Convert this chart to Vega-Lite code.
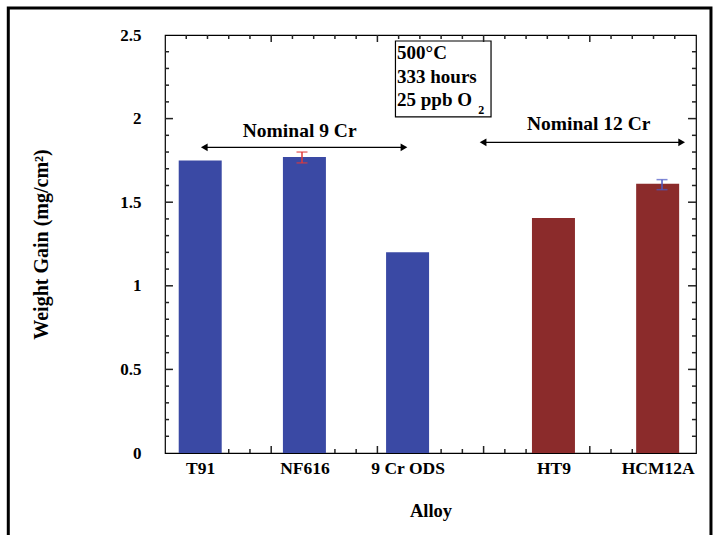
{
  "$schema": "https://vega.github.io/schema/vega-lite/v6.json",
  "width": 531,
  "height": 418,
  "autosize": "none",
  "padding": {"left": 165, "top": 35, "right": 19, "bottom": 82},
  "background": "white",
  "config": {
    "view": {"stroke": "black", "strokeWidth": 1.2},
    "font": "Liberation Serif",
    "axis": {
      "labelFont": "Liberation Serif",
      "titleFont": "Liberation Serif",
      "labelFontWeight": "bold",
      "titleFontWeight": "bold",
      "labelColor": "black",
      "titleColor": "black",
      "grid": false,
      "domain": false,
      "labelFlush": false,
      "labelOverlap": false,
      "labelBound": false
    }
  },
  "datasets": {
    "bars": [
      {"alloy": "T91", "pos": 0.29, "gain": 1.75, "group": "Nominal 9 Cr"},
      {"alloy": "NF616", "pos": 1.29, "gain": 1.77, "group": "Nominal 9 Cr"},
      {"alloy": "9 Cr ODS", "pos": 2.28, "gain": 1.2, "group": "Nominal 9 Cr"},
      {"alloy": "HT9", "pos": 3.68, "gain": 1.405, "group": "Nominal 12 Cr"},
      {"alloy": "HCM12A", "pos": 4.68, "gain": 1.61, "group": "Nominal 12 Cr"}
    ],
    "errors": [
      {"alloy": "NF616", "pos": 1.29, "lo": 1.735, "hi": 1.8},
      {"alloy": "HCM12A", "pos": 4.68, "lo": 1.575, "hi": 1.635}
    ],
    "arrows": [
      {"label": "Nominal 9 Cr", "from": 0.37, "to": 2.25, "y": 1.828, "tx": 1.268, "ty": 1.925},
      {"label": "Nominal 12 Cr", "from": 2.995, "to": 4.865, "y": 1.858, "tx": 3.99, "ty": 1.965}
    ],
    "box": [{"x1": 2.17, "x2": 3.07, "y1": 2.01, "y2": 2.464}],
    "boxText": [
      {"line": "500°C", "x": 2.185, "y": 2.39},
      {"line": "333 hours", "x": 2.185, "y": 2.25},
      {"line": "25 ppb O", "x": 2.185, "y": 2.112}
    ],
    "sub": [{"t": "2", "x": 2.95, "y": 2.05}],
    "yMajor": [{"v": 0.5}, {"v": 1}, {"v": 1.5}, {"v": 2}],
    "yMinor": [{"v": 0.1}, {"v": 0.2}, {"v": 0.3}, {"v": 0.4}, {"v": 0.6}, {"v": 0.7}, {"v": 0.8}, {"v": 0.9}, {"v": 1.1}, {"v": 1.2}, {"v": 1.3}, {"v": 1.4}, {"v": 1.6}, {"v": 1.7}, {"v": 1.8}, {"v": 1.9}, {"v": 2.1}, {"v": 2.2}, {"v": 2.3}, {"v": 2.4}],
    "xMajor": [{"v": 1}, {"v": 2}, {"v": 3}, {"v": 4}],
    "xMinorBottom": [{"v": 0.6}, {"v": 0.8}, {"v": 1.6}, {"v": 1.8}, {"v": 2.6}, {"v": 2.8}, {"v": 3.2}, {"v": 3.4}, {"v": 4.2}, {"v": 4.4}],
    "xMinorTop": [{"v": 0.2}, {"v": 0.4}, {"v": 0.6}, {"v": 0.8}, {"v": 1.2}, {"v": 1.4}, {"v": 1.6}, {"v": 1.8}, {"v": 2.2}, {"v": 2.4}, {"v": 2.6}, {"v": 2.8}, {"v": 3.2}, {"v": 3.4}, {"v": 3.6}, {"v": 3.8}, {"v": 4.2}, {"v": 4.4}, {"v": 4.6}, {"v": 4.8}]
  },
  "resolve": {
    "scale": {"color": "independent", "x": "independent", "y": "independent"},
    "axis": {"x": "independent", "y": "independent"}
  },
  "layer": [
    {
      "data": {"name": "bars"},
      "mark": {"type": "bar", "size": 43},
      "encoding": {
        "x": {
          "field": "pos", "type": "quantitative",
          "scale": {"domain": [0, 5], "nice": false, "zero": false},
          "axis": {
            "orient": "bottom",
            "values": [0.29, 1.29, 2.28, 3.68, 4.68],
            "ticks": false, "tickSize": 0, "labelPadding": 6,
            "labelFontSize": 17.5,
            "labelExpr": "datum.value < 1 ? 'T91' : datum.value < 2 ? 'NF616' : datum.value < 3 ? '9 Cr ODS' : datum.value < 4 ? 'HT9' : 'HCM12A'",
            "title": "Alloy", "titleFontSize": 18.5, "titlePadding": 25
          }
        },
        "y": {
          "field": "gain", "type": "quantitative",
          "scale": {"domain": [0, 2.5], "nice": false},
          "axis": {
            "orient": "left",
            "values": [0, 0.5, 1, 1.5, 2, 2.5],
            "format": "~g",
            "ticks": false, "tickSize": 0, "labelPadding": 24,
            "labelFontSize": 17,
            "title": "Weight Gain (mg/cm²)", "titleFontSize": 20, "titleX": -114
          }
        },
        "color": {
          "field": "group", "type": "nominal",
          "scale": {"domain": ["Nominal 9 Cr", "Nominal 12 Cr"], "range": ["#3a49a4", "#8b2b2b"]},
          "legend": null
        }
      }
    },
    {
      "data": {"name": "errors"},
      "mark": {"type": "rule", "strokeWidth": 1.5},
      "encoding": {
        "x": {"field": "pos", "type": "quantitative", "scale": {"domain": [0, 5], "nice": false, "zero": false}, "axis": null},
        "y": {"field": "lo", "type": "quantitative", "scale": {"domain": [0, 2.5], "nice": false}, "axis": null},
        "y2": {"field": "hi"},
        "color": {
          "field": "alloy", "type": "nominal",
          "scale": {"domain": ["NF616", "HCM12A"], "range": ["#e03a3a", "#4a57c4"]},
          "legend": null
        }
      }
    },
    {
      "data": {"name": "errors"},
      "mark": {"type": "tick", "orient": "horizontal", "size": 11, "thickness": 1.5},
      "encoding": {
        "x": {"field": "pos", "type": "quantitative", "scale": {"domain": [0, 5], "nice": false, "zero": false}, "axis": null},
        "y": {"field": "lo", "type": "quantitative", "scale": {"domain": [0, 2.5], "nice": false}, "axis": null},
        "color": {
          "field": "alloy", "type": "nominal",
          "scale": {"domain": ["NF616", "HCM12A"], "range": ["#e03a3a", "#4a57c4"]},
          "legend": null
        }
      }
    },
    {
      "data": {"name": "errors"},
      "mark": {"type": "tick", "orient": "horizontal", "size": 11, "thickness": 1.5},
      "encoding": {
        "x": {"field": "pos", "type": "quantitative", "scale": {"domain": [0, 5], "nice": false, "zero": false}, "axis": null},
        "y": {"field": "hi", "type": "quantitative", "scale": {"domain": [0, 2.5], "nice": false}, "axis": null},
        "color": {
          "field": "alloy", "type": "nominal",
          "scale": {"domain": ["NF616", "HCM12A"], "range": ["#e03a3a", "#4a57c4"]},
          "legend": null
        }
      }
    },
    {
      "data": {"name": "arrows"},
      "mark": {"type": "rule", "color": "black", "strokeWidth": 1.3},
      "encoding": {
        "x": {"field": "from", "type": "quantitative", "scale": {"domain": [0, 5], "nice": false, "zero": false}, "axis": null},
        "x2": {"field": "to"},
        "y": {"field": "y", "type": "quantitative", "scale": {"domain": [0, 2.5], "nice": false}, "axis": null}
      }
    },
    {
      "data": {"name": "arrows"},
      "mark": {"type": "point", "shape": "triangle-left", "filled": true, "color": "black", "size": 60, "opacity": 1},
      "encoding": {
        "x": {"field": "from", "type": "quantitative", "scale": {"domain": [0, 5], "nice": false, "zero": false}, "axis": null},
        "y": {"field": "y", "type": "quantitative", "scale": {"domain": [0, 2.5], "nice": false}, "axis": null}
      }
    },
    {
      "data": {"name": "arrows"},
      "mark": {"type": "point", "shape": "triangle-right", "filled": true, "color": "black", "size": 60, "opacity": 1},
      "encoding": {
        "x": {"field": "to", "type": "quantitative", "scale": {"domain": [0, 5], "nice": false, "zero": false}, "axis": null},
        "y": {"field": "y", "type": "quantitative", "scale": {"domain": [0, 2.5], "nice": false}, "axis": null}
      }
    },
    {
      "data": {"name": "arrows"},
      "mark": {"type": "text", "font": "Liberation Serif", "fontWeight": "bold", "fontSize": 19.5, "color": "black", "align": "center", "baseline": "middle"},
      "encoding": {
        "x": {"field": "tx", "type": "quantitative", "scale": {"domain": [0, 5], "nice": false, "zero": false}, "axis": null},
        "y": {"field": "ty", "type": "quantitative", "scale": {"domain": [0, 2.5], "nice": false}, "axis": null},
        "text": {"field": "label"}
      }
    },
    {
      "data": {"name": "box"},
      "mark": {"type": "rect", "fill": "white", "stroke": "black", "strokeWidth": 1.2},
      "encoding": {
        "x": {"field": "x1", "type": "quantitative", "scale": {"domain": [0, 5], "nice": false, "zero": false}, "axis": null},
        "x2": {"field": "x2"},
        "y": {"field": "y1", "type": "quantitative", "scale": {"domain": [0, 2.5], "nice": false}, "axis": null},
        "y2": {"field": "y2"}
      }
    },
    {
      "data": {"name": "boxText"},
      "mark": {"type": "text", "font": "Liberation Serif", "fontWeight": "bold", "fontSize": 19, "color": "black", "align": "left", "baseline": "middle"},
      "encoding": {
        "x": {"field": "x", "type": "quantitative", "scale": {"domain": [0, 5], "nice": false, "zero": false}, "axis": null},
        "y": {"field": "y", "type": "quantitative", "scale": {"domain": [0, 2.5], "nice": false}, "axis": null},
        "text": {"field": "line"}
      }
    },
    {
      "data": {"name": "sub"},
      "mark": {"type": "text", "font": "Liberation Serif", "fontWeight": "bold", "fontSize": 12, "color": "black", "align": "left", "baseline": "middle"},
      "encoding": {
        "x": {"field": "x", "type": "quantitative", "scale": {"domain": [0, 5], "nice": false, "zero": false}, "axis": null},
        "y": {"field": "y", "type": "quantitative", "scale": {"domain": [0, 2.5], "nice": false}, "axis": null},
        "text": {"field": "t"}
      }
    },
    {
      "data": {"values": [{}]},
      "mark": {"type": "rect", "filled": false, "stroke": "black", "strokeWidth": 3, "clip": false},
      "encoding": {
        "x": {"datum": -1.4756, "type": "quantitative", "scale": {"domain": [0, 5], "nice": false, "zero": false}, "axis": null},
        "x2": {"datum": 5.141},
        "y": {"datum": 2.661, "type": "quantitative", "scale": {"domain": [0, 2.5], "nice": false}, "axis": null},
        "y2": {"datum": -0.7}
      }
    },
    {
      "data": {"name": "yMajor"},
      "mark": {"type": "rule", "color": "#222", "strokeWidth": 1.5},
      "encoding": {
        "y": {"field": "v", "type": "quantitative", "scale": {"domain": [0, 2.5], "nice": false}, "axis": null},
        "x": {"datum": 0, "type": "quantitative", "scale": {"domain": [0, 5], "nice": false, "zero": false}, "axis": null},
        "x2": {"datum": 0.075}
      }
    },
    {
      "data": {"name": "yMajor"},
      "mark": {"type": "rule", "color": "#222", "strokeWidth": 1.5},
      "encoding": {
        "y": {"field": "v", "type": "quantitative", "scale": {"domain": [0, 2.5], "nice": false}, "axis": null},
        "x": {"datum": 4.925, "type": "quantitative", "scale": {"domain": [0, 5], "nice": false, "zero": false}, "axis": null},
        "x2": {"datum": 5}
      }
    },
    {
      "data": {"name": "yMinor"},
      "mark": {"type": "rule", "color": "#222", "strokeWidth": 1.5},
      "encoding": {
        "y": {"field": "v", "type": "quantitative", "scale": {"domain": [0, 2.5], "nice": false}, "axis": null},
        "x": {"datum": 0, "type": "quantitative", "scale": {"domain": [0, 5], "nice": false, "zero": false}, "axis": null},
        "x2": {"datum": 0.038}
      }
    },
    {
      "data": {"name": "yMinor"},
      "mark": {"type": "rule", "color": "#222", "strokeWidth": 1.5},
      "encoding": {
        "y": {"field": "v", "type": "quantitative", "scale": {"domain": [0, 2.5], "nice": false}, "axis": null},
        "x": {"datum": 4.962, "type": "quantitative", "scale": {"domain": [0, 5], "nice": false, "zero": false}, "axis": null},
        "x2": {"datum": 5}
      }
    },
    {
      "data": {"name": "xMajor"},
      "mark": {"type": "rule", "color": "#222", "strokeWidth": 1.5},
      "encoding": {
        "x": {"field": "v", "type": "quantitative", "scale": {"domain": [0, 5], "nice": false, "zero": false}, "axis": null},
        "y": {"datum": 0, "type": "quantitative", "scale": {"domain": [0, 2.5], "nice": false}, "axis": null},
        "y2": {"datum": 0.042}
      }
    },
    {
      "data": {"name": "xMajor"},
      "mark": {"type": "rule", "color": "#222", "strokeWidth": 1.5},
      "encoding": {
        "x": {"field": "v", "type": "quantitative", "scale": {"domain": [0, 5], "nice": false, "zero": false}, "axis": null},
        "y": {"datum": 2.458, "type": "quantitative", "scale": {"domain": [0, 2.5], "nice": false}, "axis": null},
        "y2": {"datum": 2.5}
      }
    },
    {
      "data": {"name": "xMinorBottom"},
      "mark": {"type": "rule", "color": "#222", "strokeWidth": 1.5},
      "encoding": {
        "x": {"field": "v", "type": "quantitative", "scale": {"domain": [0, 5], "nice": false, "zero": false}, "axis": null},
        "y": {"datum": 0, "type": "quantitative", "scale": {"domain": [0, 2.5], "nice": false}, "axis": null},
        "y2": {"datum": 0.024}
      }
    },
    {
      "data": {"name": "xMinorTop"},
      "mark": {"type": "rule", "color": "#222", "strokeWidth": 1.5},
      "encoding": {
        "x": {"field": "v", "type": "quantitative", "scale": {"domain": [0, 5], "nice": false, "zero": false}, "axis": null},
        "y": {"datum": 2.476, "type": "quantitative", "scale": {"domain": [0, 2.5], "nice": false}, "axis": null},
        "y2": {"datum": 2.5}
      }
    }
  ]
}
